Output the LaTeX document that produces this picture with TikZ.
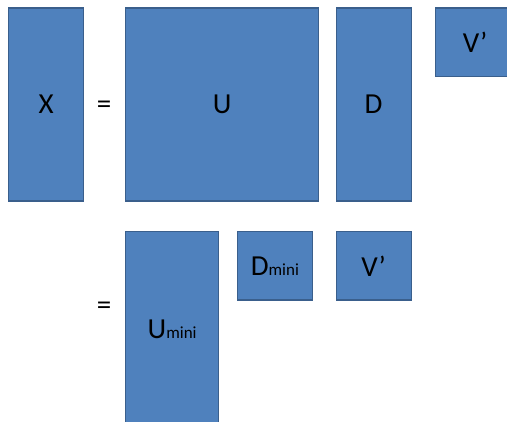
\documentclass[tikz,border=0pt]{standalone}
\usepackage{fontspec}
\setmainfont{Carlito}
\definecolor{matFill}{HTML}{4F81BD}
\definecolor{matEdge}{HTML}{3A5F8C}
\tikzset{mat box/.style={draw=matEdge, fill=matFill, line width=1.3pt,
    anchor=north west, inner sep=0pt,
    font=\fontsize{29}{29}\selectfont}}
\tikzset{eq sign/.style={font=\fontsize{29}{29}\selectfont}}
\newcommand{\minisub}{{\fontsize{17}{17}\selectfont mini}}

\begin{document}
\begin{tikzpicture}[x=1pt,y=-1pt]
\useasboundingbox (0,0) rectangle (507,422);
\clip (0,0) rectangle (507,422);

% Full decomposition: X = U D V'
\node[mat box, minimum width=75, minimum height=193] (X) at (8,7.5) {X};
\node[eq sign] (eqTop) at (104,107) {=};
\node[mat box, minimum width=193, minimum height=193] (U) at (125,7.5) {U};
\node[mat box, minimum width=75, minimum height=193] (D) at (335.5,7.5) {D};
\node[mat box, minimum width=80, minimum height=68.5] (Vt) at (434.5,7.5) {V’};

% Reduced decomposition: = Umini Dmini V'
\node[eq sign] (eqBot) at (104,308) {=};
\node[mat box, minimum width=93, minimum height=195] (Umini) at (125,231) {U\minisub};
\node[mat box, minimum width=75.5, minimum height=68.5] (Dmini) at (236.5,231) {D\minisub};
\node[mat box, minimum width=75, minimum height=68.5] (Vmini) at (335.5,231) {V’};

\end{tikzpicture}
\end{document}
